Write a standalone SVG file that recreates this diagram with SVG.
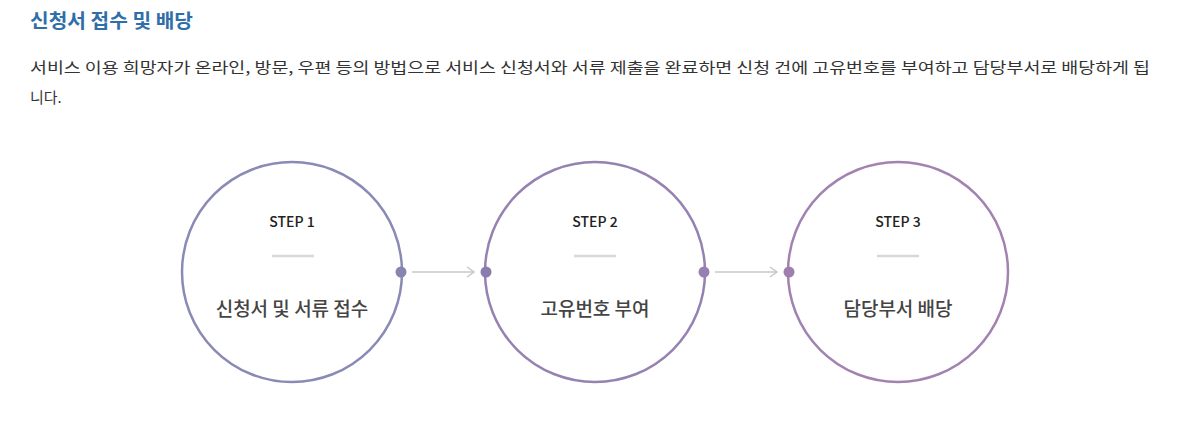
<svg xmlns="http://www.w3.org/2000/svg" width="1195" height="437" viewBox="0 0 1195 437">
<defs>
<style>
.title{font-family:"Noto Sans CJK KR","Noto Sans",sans-serif;font-size:19px;font-weight:700;fill:#2f6ea8}
.para{font-family:"Noto Sans CJK KR","Noto Sans",sans-serif;font-size:15px;fill:#333}
.step{font-family:"Noto Sans CJK KR","Noto Sans",sans-serif;font-size:14px;font-weight:500;fill:#222;text-anchor:middle}
.lbl{font-family:"Noto Sans CJK KR","Noto Sans",sans-serif;font-size:19px;font-weight:500;fill:#444;text-anchor:middle}
.sep{stroke:#d8d8d8;stroke-width:2.5}
.conn{stroke:#c8c8c8;stroke-width:1.5;fill:none}
</style>
<marker id="arr" markerWidth="12" markerHeight="12" refX="10" refY="6" orient="auto" markerUnits="userSpaceOnUse">
<path d="M3,1 L10,6 L3,11" fill="none" stroke="#c8c8c8" stroke-width="1.5"/>
</marker>
</defs>
<rect width="1195" height="437" fill="#fff"/>
<text class="title" x="30" y="28" textLength="163" lengthAdjust="spacingAndGlyphs">신청서 접수 및 배당</text>
<text class="para" x="30" y="73" textLength="1120" lengthAdjust="spacingAndGlyphs">서비스 이용 희망자가 온라인, 방문, 우편 등의 방법으로 서비스 신청서와 서류 제출을 완료하면 신청 건에 고유번호를 부여하고 담당부서로 배당하게 됩</text>
<text class="para" x="30" y="103">니다.</text>
<g id="connectors">
<path class="conn" d="M412,272 L474,272" marker-end="url(#arr)"/>
<path class="conn" d="M715,272 L777,272" marker-end="url(#arr)"/>
</g>
<g id="step1">
<circle cx="292" cy="272" r="110" fill="none" stroke="#8a8ab6" stroke-width="2.5"/>
<circle cx="401" cy="272" r="5.5" fill="#8585b0"/>
<text class="step" x="292" y="227">STEP 1</text>
<line class="sep" x1="272" y1="256" x2="314" y2="256"/>
<text class="lbl" x="292" y="316">신청서 및 서류 접수</text>
</g>
<g id="step2">
<circle cx="595" cy="272" r="110" fill="none" stroke="#9582b2" stroke-width="2.5"/>
<circle cx="486" cy="272" r="5.5" fill="#8a7cae"/>
<circle cx="704" cy="272" r="5.5" fill="#9580b0"/>
<text class="step" x="595" y="227">STEP 2</text>
<line class="sep" x1="574" y1="256" x2="616" y2="256"/>
<text class="lbl" x="595" y="316">고유번호 부여</text>
</g>
<g id="step3">
<circle cx="898" cy="272" r="110" fill="none" stroke="#a283b0" stroke-width="2.5"/>
<circle cx="789" cy="272" r="5.5" fill="#a07fae"/>
<text class="step" x="898" y="227">STEP 3</text>
<line class="sep" x1="877" y1="256" x2="919" y2="256"/>
<text class="lbl" x="898" y="316">담당부서 배당</text>
</g>
</svg>
